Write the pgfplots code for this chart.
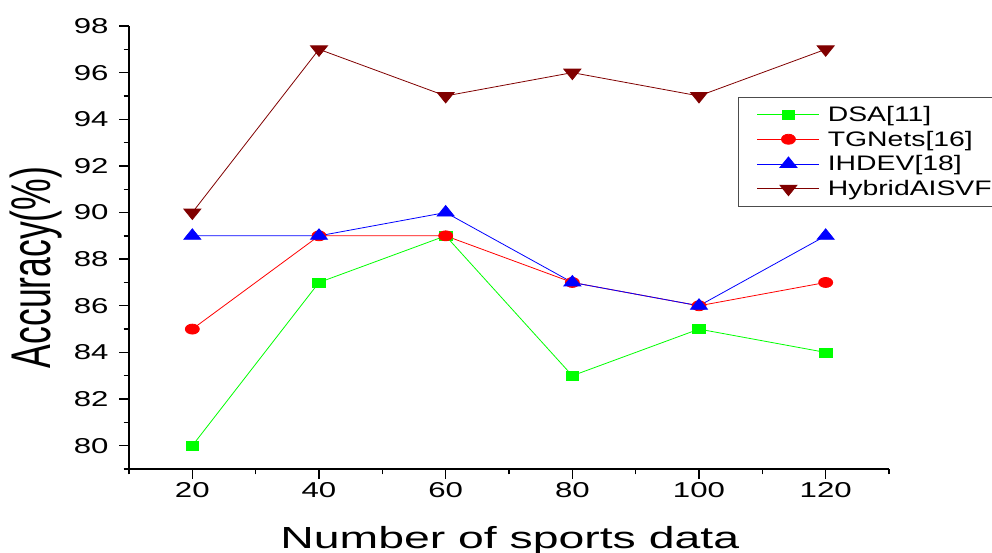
\documentclass[border=0pt]{standalone}
\usepackage{pgfplots}
\pgfplotsset{compat=1.18}
\usepackage{fontspec}
\setmainfont{Liberation Sans}
\newfontfamily\tickfont{Liberation Sans}[FakeStretch=1.45]
\newfontfamily\xlabfont{Liberation Sans}[FakeStretch=1.52]
\newfontfamily\ylabfont{Liberation Sans}[FakeStretch=0.635]
\newfontfamily\legfont{Liberation Sans}[FakeStretch=1.35]
\definecolor{dsa}{RGB}{0,255,0}
\definecolor{tgn}{RGB}{255,0,0}
\definecolor{ihd}{RGB}{0,0,255}
\definecolor{hyb}{RGB}{128,0,0}
\pgfplotsset{
  myleg/.style={legend image code/.code={%
    \path (-15pt,0pt) (68pt,0pt);
    \draw[draw=#1, line width=0.8pt] (0pt,0pt) -- (62pt,0pt);
    \path[##1] plot coordinates {(31pt,0pt)};}}
}
\begin{document}
\begin{tikzpicture}
\begin{axis}[
  scale only axis, width=760pt, height=443pt,
  xmin=10, xmax=130, ymin=79, ymax=98,
  axis lines=left,
  axis line style={-, line width=1.4pt},
  tick align=outside,
  major tick length=10pt, minor tick length=5.5pt,
  every tick/.style={black, line width=1.4pt},
  xtick={20,40,...,120}, minor xtick={10,30,...,130},
  ytick={80,82,...,98}, minor ytick={79,81,...,97},
  /pgf/number format/assume math mode=true,
  tick label style={font=\tickfont\fontsize{21.5}{21.5}\selectfont},
  yticklabel style={xshift=-7pt},
  xlabel={\xlabfont\fontsize{30.5}{30.5}\selectfont Number of sports data},
  ylabel={\ylabfont\fontsize{56}{56}\selectfont Accuracy(\%)},
  xlabel style={at={(axis description cs:0.501,0)}, anchor=base, yshift=-79pt},
  ylabel style={yshift=5pt, xshift=-20pt},
  legend style={at={(rel axis cs:0.801,0.840)}, anchor=north west,
    draw=black!70, line width=0.6pt, font=\legfont\fontsize{21}{21}\selectfont,
    row sep=4pt, inner xsep=4pt, inner ysep=7pt},
  legend cell align=left,
  every axis plot/.append style={line width=0.8pt},
]
\addplot[color=dsa, mark=square*, mark options={xscale=1.4, mark size=4.5pt}, myleg=dsa] coordinates {(20,80)(40,87)(60,89)(80,83)(100,85)(120,84)};
\addlegendentry{DSA[11]}
\addplot[color=tgn, mark=*, mark options={xscale=1.4, mark size=5pt}, myleg=tgn] coordinates {(20,85)(40,89)(60,89)(80,87)(100,86)(120,87)};
\addlegendentry{TGNets[16]}
\addplot[color=ihd, mark=triangle*, mark options={xscale=1.4, mark size=7pt}, myleg=ihd] coordinates {(20,89)(40,89)(60,90)(80,87)(100,86)(120,89)};
\addlegendentry{IHDEV[18]}
\addplot[color=hyb, mark=triangle*, mark options={xscale=1.4, mark size=7pt, rotate=180}, myleg=hyb] coordinates {(20,90)(40,97)(60,95)(80,96)(100,95)(120,97)};
\addlegendentry{HybridAISVF}
\end{axis}
\pgfresetboundingbox
\useasboundingbox (-129pt,-84pt) rectangle (863pt,469pt);
\end{tikzpicture}
\end{document}
